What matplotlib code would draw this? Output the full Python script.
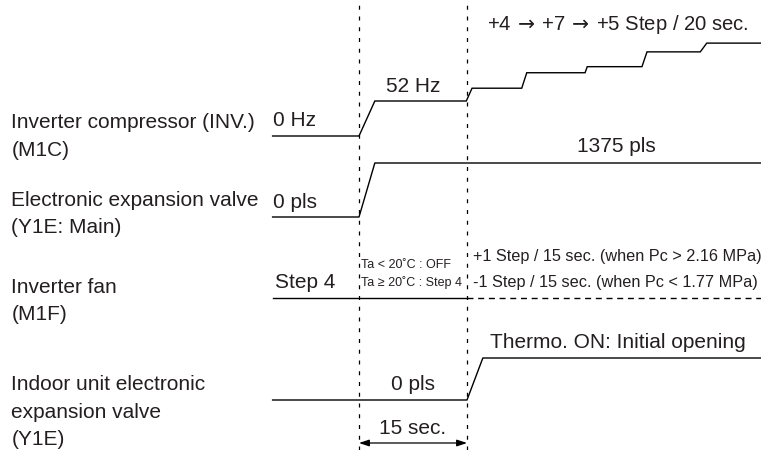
import matplotlib
matplotlib.use("Agg")
import matplotlib.pyplot as plt
from matplotlib import font_manager
import matplotlib.transforms as mtransforms

# ---------------- data ----------------
# time axis in seconds, t=0 at start of operation, second dashed line at 15 s
event_times = [0, 15]
period_label = "15 sec."

comp_t = [-12, 0, 2.2, 14.9, 15.7, 22.6, 23.3, 31.4, 31.7, 39.3, 40.0, 47.4, 48.3, 55.8]
comp_hz = [0, 0, 52, 52, 71, 71, 94, 94, 103, 103, 125, 125, 138, 138]

ev_t = [-12, 0, 2.2, 55.8]
ev_pls = [0, 0, 1375, 1375]

fan_t_fixed = [-12, 15]
fan_t_ctrl = [15, 55.8]
fan_level = [4, 4]

indoor_t = [-12, 15, 17.2, 55.8]
indoor_level = [0, 0, 1, 1]

row_labels = [
    "Inverter compressor (INV.)\n(M1C)",
    "Electronic expansion valve\n(Y1E: Main)",
    "Inverter fan\n(M1F)",
    "Indoor unit electronic\nexpansion valve\n(Y1E)",
]

# ---------------- layout ----------------
W, H, DPI = 761, 450, 100
PX_PER_S = 7.2
T0_PX = 359
fig = plt.figure(figsize=(W / DPI, H / DPI), dpi=DPI)
ax = fig.add_axes([0, 0, 1, 1])
ax.set_xlim(-T0_PX / PX_PER_S, (W - T0_PX) / PX_PER_S)
ax.set_ylim(H, 0)
ax.axis("off")

avail = {f.name for f in font_manager.fontManager.ttflist}
FONT = "Liberation Sans" if "Liberation Sans" in avail else "DejaVu Sans"
NARROW = "Liberation Sans Narrow" if "Liberation Sans Narrow" in avail else FONT
TXT = "#231f20"
LW = 1.0

def row_y(values, base, scale):
    return [base - v * scale for v in values]

# compressor
ax.plot(comp_t, row_y(comp_hz, 136, 35 / 52), color="black", lw=LW, solid_joinstyle="miter")
# main EV
ax.plot(ev_t, row_y(ev_pls, 217, 54 / 1375), color="black", lw=LW)
# fan
ax.plot(fan_t_fixed, row_y([0, 0], 298, 1), color="black", lw=LW)
ax.plot(fan_t_ctrl, row_y([0, 0], 298, 1), color="black", lw=LW, dashes=(4.3, 3.4))
# indoor EV
ax.plot(indoor_t, row_y(indoor_level, 400, 42), color="black", lw=LW)

# vertical dashed event lines
for t in event_times:
    ax.axvline(t, color="black", lw=0.9, dashes=(3.2, 5.4))

# span arrow
ax.annotate("", xy=(event_times[0], 443), xytext=(event_times[1], 443),
            arrowprops=dict(arrowstyle="<|-|>,head_length=0.6,head_width=0.2",
                            color="black", lw=0.9, shrinkA=0, shrinkB=0))

def T(x_t, y, s, size, ha="left", family=FONT):
    ax.text(x_t, y, s, fontsize=size, ha=ha, va="center", color=TXT,
            family=[family, "DejaVu Sans"])

# left labels
trans = mtransforms.blended_transform_factory(ax.transAxes, ax.transData)
label_y = [136.5, 214, 301, 412]
for lab, y in zip(row_labels, label_y):
    ax.text(0.015, y, lab, transform=trans, fontsize=15, ha="left", va="center",
            color=TXT, family=[FONT, "DejaVu Sans"], linespacing=1.55)

BIG = 15
T(-11.9, 121, "0 Hz", BIG)
T(7.5, 87, "52 Hz", BIG, ha="center")
T(17.8, 25, r"+4$\,\rightarrow\,$+7$\,\rightarrow\,$+5 Step / 20 sec.", 14.6)
T(-11.9, 202, "0 pls", BIG)
T(35.8, 147, "1375 pls", BIG, ha="center")
T(-11.7, 283, "Step 4", BIG)
T(0.3, 265, "Ta < 20\u02daC : OFF", 9, family=NARROW)
T(0.3, 283, "Ta \u2265 20\u02daC : Step 4", 9, family=NARROW)
T(15.8, 257, "+1 Step / 15 sec. (when Pc > 2.16 MPa)", 11.7, family=NARROW)
T(15.8, 283, "-1 Step / 15 sec. (when Pc < 1.77 MPa)", 11.7, family=NARROW)
T(18.2, 343, "Thermo. ON: Initial opening", BIG)
T(7.5, 385, "0 pls", BIG, ha="center")
T(7.5, 428, period_label, BIG, ha="center")

fig.savefig("out.png", dpi=DPI)
